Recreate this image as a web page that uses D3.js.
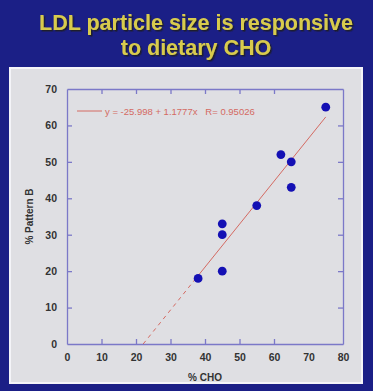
<!DOCTYPE html>
<html>
<head>
<meta charset="utf-8">
<script src="https://cdn.jsdelivr.net/npm/d3@7"></script>
<style>
  html, body { margin: 0; padding: 0; background: #1b1f86; }
  svg { display: block; }
</style>
</head>
<body>
<div id="chart"></div>
<script>
const titleLines = ["LDL particle size is responsive", "to dietary CHO"];
const choValues = [38, 45, 45, 45, 55, 62, 65, 65, 75];
const patternBValues = [18, 33, 30, 20, 38, 52, 50, 43, 65];
const xTicks = [0, 10, 20, 30, 40, 50, 60, 70, 80];
const yTicks = [0, 10, 20, 30, 40, 50, 60, 70];
const fitIntercept = -25.998;
const fitSlope = 1.1777;
const fitLabel = "y = -25.998 + 1.1777x   R= 0.95026";

const width = 373, height = 391;
const margin = { top: 89, right: 30, bottom: 47, left: 67 };
const plotW = width - margin.left - margin.right;
const plotH = height - margin.top - margin.bottom;

const svg = d3.select("#chart").append("svg")
    .attr("width", width)
    .attr("height", height);

// drop shadow for the title
svg.append("defs").append("filter").attr("id", "shadow")
    .attr("x", "-10%").attr("y", "-30%").attr("width", "120%").attr("height", "160%")
    .append("feDropShadow")
    .attr("dx", 1.5).attr("dy", 1.5).attr("stdDeviation", 0.6)
    .attr("flood-color", "#1a1a22").attr("flood-opacity", 0.9);

// slide background
svg.append("rect").attr("width", width).attr("height", height).attr("fill", "#1b1f86");

const title = svg.append("text")
    .attr("font-family", "Liberation Sans, Arial, sans-serif")
    .attr("font-weight", "bold").attr("font-size", 21.5).attr("text-anchor", "middle")
    .attr("fill", "#d8cb4e").attr("filter", "url(#shadow)");
titleLines.forEach((line, i) => {
    title.append("tspan").attr("x", 196).attr("y", 30 + i * 25).text(line);
});

// white panel
svg.append("rect").attr("x", 10).attr("y", 68).attr("width", 352).attr("height", 315)
    .attr("fill", "#dfdfe3").attr("stroke", "#f4f4f8").attr("stroke-width", 2);

const g = svg.append("g").attr("transform", `translate(${margin.left},${margin.top})`);

const x = d3.scaleLinear().domain([0, 80]).range([0, plotW]);
const y = d3.scaleLinear().domain([0, 70]).range([plotH, 0]);

const axisColor = "#7b78c8";
function styleAxis(sel, showLabels) {
    sel.select(".domain").attr("stroke", axisColor).attr("stroke-width", 1.3);
    sel.selectAll(".tick line").attr("stroke", axisColor).attr("stroke-width", 1.3);
    sel.selectAll(".tick text")
        .attr("fill", "#333")
        .attr("font-family", "Liberation Sans, Arial, sans-serif")
        .attr("font-weight", "bold")
        .attr("font-size", 10.5)
        .style("display", showLabels ? null : "none");
}

g.append("g").attr("transform", `translate(0,${plotH})`)
    .call(d3.axisBottom(x).tickValues(xTicks).tickSize(-5).tickPadding(10).tickSizeOuter(0))
    .call(s => styleAxis(s, true));
g.append("g")
    .call(d3.axisTop(x).tickValues(xTicks).tickSize(-5).tickSizeOuter(0))
    .call(s => styleAxis(s, false));
g.append("g")
    .call(d3.axisLeft(y).tickValues(yTicks).tickSize(-5).tickPadding(10).tickSizeOuter(0))
    .call(s => styleAxis(s, true));
g.append("g").attr("transform", `translate(${plotW},0)`)
    .call(d3.axisRight(y).tickValues(yTicks).tickSize(-5).tickSizeOuter(0))
    .call(s => styleAxis(s, false));

// hide ticks at the corners
g.selectAll(".tick").filter(d => d === 0 || d === 80 || d === 70).select("line").attr("display", "none");

// axis titles
g.append("text").attr("x", plotW / 2).attr("y", plotH + 37)
    .attr("text-anchor", "middle").attr("fill", "#333")
    .attr("font-family", "Liberation Sans, Arial, sans-serif").attr("font-weight", "bold")
    .attr("font-size", 10).text("% CHO");
g.append("text").attr("transform", `translate(-34,${plotH / 2}) rotate(-90)`)
    .attr("text-anchor", "middle").attr("fill", "#333")
    .attr("font-family", "Liberation Sans, Arial, sans-serif").attr("font-weight", "bold")
    .attr("font-size", 10).text("% Pattern B");

// regression line: dashed extrapolation, solid over data range
const fit = v => fitIntercept + fitSlope * v;
const xMin = d3.min(choValues), xMax = d3.max(choValues);
const xZero = -fitIntercept / fitSlope;
const lineColor = "#d46a62";
g.append("line")
    .attr("x1", x(xZero)).attr("y1", y(0))
    .attr("x2", x(xMin)).attr("y2", y(fit(xMin)))
    .attr("stroke", lineColor).attr("stroke-width", 1).attr("stroke-dasharray", "4,4");
g.append("line")
    .attr("x1", x(xMin)).attr("y1", y(fit(xMin)))
    .attr("x2", x(xMax)).attr("y2", y(fit(xMax)))
    .attr("stroke", lineColor).attr("stroke-width", 1);

// legend
g.append("line").attr("x1", 10).attr("x2", 35).attr("y1", 22).attr("y2", 22)
    .attr("stroke", lineColor).attr("stroke-width", 1);
g.append("text").attr("x", 38).attr("y", 25.5)
    .attr("fill", lineColor).attr("font-family", "Liberation Sans, Arial, sans-serif")
    .attr("font-size", 9.5).style("white-space", "pre")
    .text(fitLabel);

// points
g.selectAll("circle")
    .data(choValues.map((v, i) => [v, patternBValues[i]]))
    .enter()
    .append("circle")
    .attr("cx", d => x(d[0]))
    .attr("cy", d => y(d[1]))
    .attr("r", 4.4)
    .attr("fill", "#1410b4");
</script>
</body>
</html>
